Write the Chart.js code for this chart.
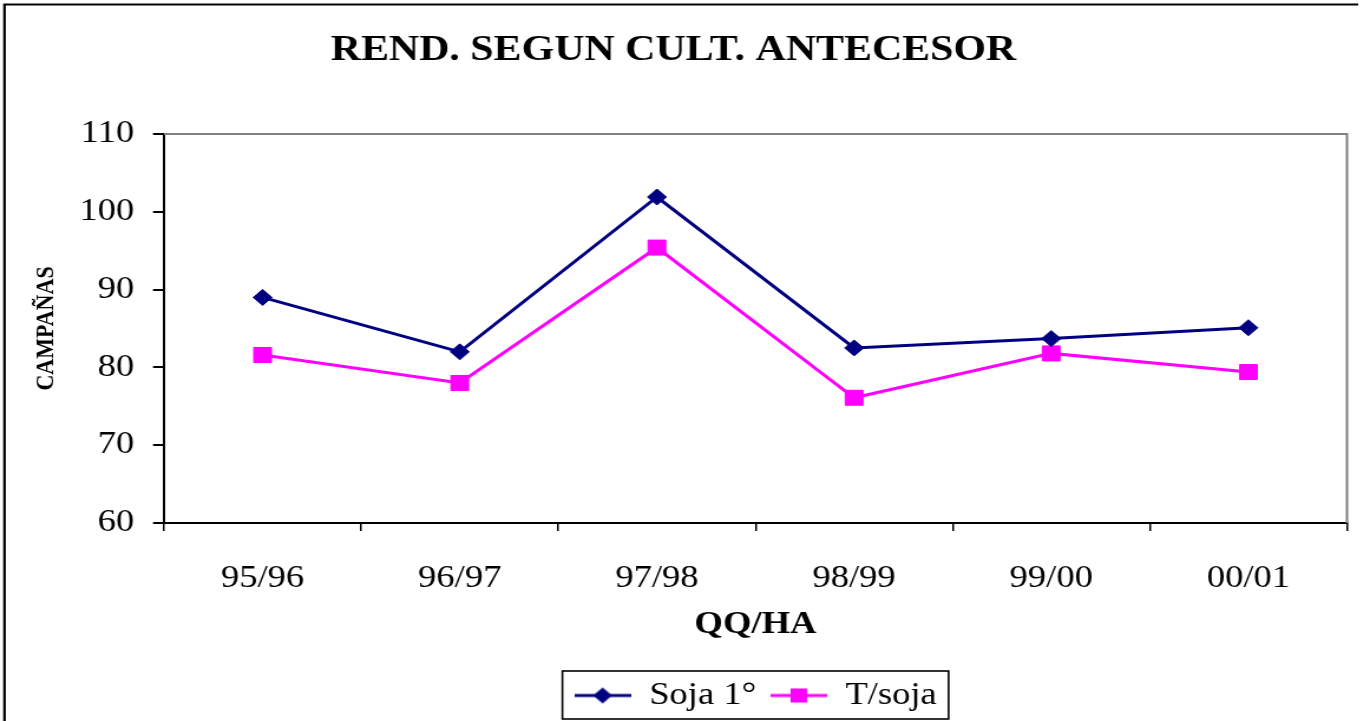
<!DOCTYPE html>
<html>
<head>
<meta charset="utf-8">
<script src="https://cdn.jsdelivr.net/npm/chart.js@4/dist/chart.umd.min.js"></script>
<style>
html, body { margin: 0; padding: 0; background: #fff; overflow: hidden; }
/* the original picture is stretched sideways, so draw narrower and scale */
#wrap { position: relative; width: 1155px; height: 721px; transform: scaleX(1.18); transform-origin: 0 0; }
</style>
</head>
<body>
<div id="wrap"><canvas id="plot"></canvas></div>
<script>
var seasons = ["95/96", "96/97", "97/98", "98/99", "99/00", "00/01"];
var soja1 = [89.0, 82.0, 101.9, 82.5, 83.7, 85.1];
var tSoja = [81.6, 78.0, 95.4, 76.1, 81.8, 79.4];
var seriesNames = ["Soja 1°", "T/soja"];
var yMin = 60, yMax = 110, yStep = 10;

var NAVY = "#000080";
var MAGENTA = "#ff00ff";
var SERIF = "'Liberation Serif', 'Times New Roman', serif";

function legendIcon(color, shape) {
    var c = document.createElement("canvas");
    c.width = 48;
    c.height = 20;
    var ctx = c.getContext("2d");
    ctx.strokeStyle = color;
    ctx.lineWidth = 3;
    ctx.beginPath();
    ctx.moveTo(0, 10);
    ctx.lineTo(48, 10);
    ctx.stroke();
    ctx.fillStyle = color;
    if (shape == "diamond") {
        ctx.beginPath();
        ctx.moveTo(24, 2);
        ctx.lineTo(32, 10);
        ctx.lineTo(24, 18);
        ctx.lineTo(16, 10);
        ctx.closePath();
        ctx.fill();
    } else {
        ctx.fillRect(17, 3, 14, 14);
    }
    return c;
}
var icons = [legendIcon(NAVY, "diamond"), legendIcon(MAGENTA, "square")];

// white page, outer frame, grey plot border and the legend box
var decorations = {
    id: "decorations",
    beforeDraw: function(chart) {
        var ctx = chart.ctx;
        ctx.save();
        ctx.fillStyle = "#fff";
        ctx.fillRect(0, 0, chart.width, chart.height);
        ctx.restore();
    },
    beforeDatasetsDraw: function(chart) {
        var a = chart.chartArea;
        var ctx = chart.ctx;
        ctx.save();
        ctx.strokeStyle = "#808080";
        ctx.lineWidth = 2;
        ctx.beginPath();
        ctx.moveTo(a.left, a.top);
        ctx.lineTo(a.right, a.top);
        ctx.lineTo(a.right, a.bottom);
        ctx.stroke();
        ctx.restore();
    },
    afterDraw: function(chart) {
        var ctx = chart.ctx;
        ctx.save();
        ctx.strokeStyle = "#000";
        ctx.lineWidth = 2.2;
        ctx.beginPath();
        ctx.moveTo(3.8, chart.height);
        ctx.lineTo(3.8, 4.5);
        ctx.lineTo(1151, 4.5);
        ctx.stroke();

        var hb = chart.legend.legendHitBoxes;
        if (hb && hb.length) {
            var first = hb[0], last = hb[hb.length - 1];
            var left = first.left - 10;
            var right = last.left + last.width + 10;
            var top = first.top - 9;
            var bottom = first.top + first.height + 8;
            ctx.lineWidth = 1.6;
            ctx.strokeRect(left, top, right - left, bottom - top);
        }
        ctx.restore();
    }
};

function createChart(canvas) {
    return new Chart(canvas, {
        type: "line",
        data: {
            labels: seasons,
            datasets: [
            {
                label: seriesNames[0],
                data: soja1,
                borderColor: NAVY,
                backgroundColor: NAVY,
                borderWidth: 3,
                pointStyle: "rectRot",
                pointRadius: 8,
                pointBorderWidth: 1,
                pointBackgroundColor: NAVY,
                pointBorderColor: NAVY,
                tension: 0,
            },
            {
                label: seriesNames[1],
                data: tSoja,
                borderColor: MAGENTA,
                backgroundColor: MAGENTA,
                borderWidth: 3,
                pointStyle: "rect",
                pointRadius: 10.6,
                pointBorderWidth: 1,
                pointBackgroundColor: MAGENTA,
                pointBorderColor: MAGENTA,
                tension: 0,
            },
            ]
        },
        options: {
            responsive: true,
            maintainAspectRatio: false,
            animation: false,
            events: [],
            layout: {
                padding: {left: 0, right: 13.5, top: 0, bottom: 0}
            },
            scales: {
                x: {
                    offset: true,
                    afterFit: function(scale) { scale.height = 145; },
                    grid: {
                        offset: true,
                        drawOnChartArea: false,
                        drawTicks: true,
                        tickLength: 8,
                        color: "#000",
                        lineWidth: 1.5,
                    },
                    border: {display: true, color: "#000", width: 2},
                    ticks: {
                        color: "#000",
                        padding: 29,
                        maxRotation: 0,
                        font: {family: SERIF, size: 31},
                    },
                    title: {
                        display: true,
                        text: "QQ/HA",
                        color: "#000",
                        font: {family: SERIF, size: 31, weight: "bold"},
                        padding: {top: 0, bottom: 24},
                    }
                },
                y: {
                    min: yMin,
                    max: yMax,
                    afterFit: function(scale) { scale.width = 139; },
                    grid: {
                        drawOnChartArea: false,
                        drawTicks: true,
                        tickLength: 9.3,
                        color: "#000",
                        lineWidth: 2,
                    },
                    border: {display: true, color: "#000", width: 2},
                    ticks: {
                        stepSize: yStep,
                        color: "#000",
                        padding: 16,
                        font: {family: SERIF, size: 31},
                    },
                    title: {
                        display: true,
                        text: "CAMPAÑAS",
                        color: "#000",
                        font: {family: SERIF, size: 22, weight: "bold"},
                        padding: {top: 26.6, bottom: 0},
                    }
                }
            },
            plugins: {
                title: {
                    display: true,
                    text: "REND. SEGUN CULT. ANTECESOR",
                    color: "#000",
                    font: {family: SERIF, size: 35.5, weight: "bold"},
                    padding: {top: 30, bottom: 61.4},
                },
                legend: {
                    position: "bottom",
                    fullSize: false,
                    labels: {
                        usePointStyle: true,
                        pointStyleWidth: 48,
                        padding: 12,
                        color: "#000",
                        font: {family: SERIF, size: 31},
                        generateLabels: function(chart) {
                            var items = Chart.defaults.plugins.legend.labels.generateLabels(chart);
                            return items.map(function(item, i) {
                                item.pointStyle = icons[i];
                                return item;
                            });
                        }
                    }
                },
                tooltip: {enabled: false}
            }
        },
        plugins: [decorations]
    });
}

var chart;
window.addEventListener("load", function() {
    chart = createChart(document.getElementById("plot"));
});
</script>
</body>
</html>
